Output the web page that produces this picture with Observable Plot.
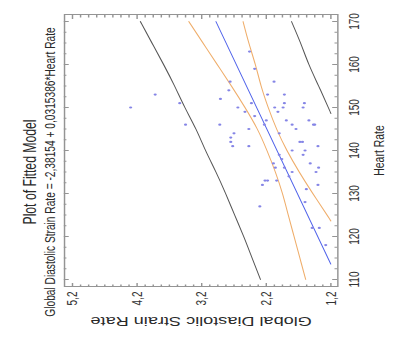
<!DOCTYPE html>
<html>
<head>
<meta charset="utf-8">
<script src="https://cdn.jsdelivr.net/npm/d3@7"></script>
<script src="https://cdn.jsdelivr.net/npm/@observablehq/plot@0.6"></script>
<style>
  html, body { margin: 0; padding: 0; background: #fff; }
  #page { position: relative; width: 398px; height: 338px; overflow: hidden; background: #fff; }
  /* The chart is laid out upright, then turned a quarter turn counter-clockwise
     and stretched along its vertical axis. */
  #chart {
    position: absolute; left: 0; top: 0;
    width: 338px; height: 275px;
    transform-origin: 0 0;
    transform: translate(0, 338px) rotate(-90deg) scale(1, 1.45);
    font-family: "Liberation Sans", Arial, sans-serif;
    color: #2a2a2a;
  }
  #chart svg { position: absolute; left: 0; top: 0; }
  .head { position: absolute; width: 338px; text-align: center; white-space: nowrap; }
  #title { left: -3px; top: 14px; font-size: 12.2px; line-height: 14px; }
  #subtitle { left: -3px; top: 27.5px; font-size: 10.2px; line-height: 13px; }
</style>
</head>
<body>
<div id="page"><div id="chart"></div></div>
<script>
// Observations
const heartRate = [163, 159, 156, 156, 154, 153, 153, 153, 152, 151, 151, 151, 151,
  150, 150, 150, 150, 150, 149, 149, 148, 147, 147, 147, 146, 146, 146, 146, 146, 146,
  145, 145, 144, 144, 143, 142, 142, 142, 141, 141, 141, 140, 140, 139, 139, 138,
  137, 137, 136, 136, 136, 135, 135, 134, 133, 133, 133, 132, 132, 131, 128, 127,
  122, 122, 118];
const strainRate = [2.46, 2.38, 2.76, 2.08, 2.78, 2.18, 1.92, 3.92, 2.91, 3.54, 2.43, 1.92, 1.61,
  4.30, 2.64, 2.07, 1.94, 1.63, 2.53, 2.02, 2.38, 2.20, 1.89, 1.54, 3.45, 2.92, 2.23, 1.80, 1.47, 1.45,
  1.74, 2.47, 2.70, 2.00, 2.75, 2.75, 1.68, 1.64, 2.72, 2.47, 1.40, 1.80, 1.60, 2.00, 1.63, 1.96,
  2.09, 1.52, 2.06, 1.92, 1.39, 1.80, 1.43, 1.85, 2.18, 2.22, 2.04, 2.26, 1.40, 1.58, 1.60, 2.30,
  1.49, 1.38, 1.28];

// Fitted model: Global Diastolic Strain Rate = -2.38154 + 0.0315386*Heart Rate
const intercept = -2.38154;
const slope = 0.0315386;
const fitRange = [113.6, 170];

// Band limits (upper/lower 95% confidence and prediction limits)
const bandHR = [110, 115, 120, 125, 130, 135, 140, 145, 150, 155, 160, 165, 170];
const upperCI = [1.59, 1.68, 1.77, 1.86, 1.95, 2.06, 2.19, 2.34, 2.53, 2.74, 2.96, 3.18, 3.40];
const upperPI = [2.29, 2.42, 2.55, 2.69, 2.83, 2.98, 3.14, 3.29, 3.46, 3.62, 3.79, 3.97, 4.15];
const lowerCIHR = [123.6, 125, 130, 135, 140, 145, 150, 155, 160, 165, 170];
const lowerCI = [1.20, 1.26, 1.48, 1.69, 1.88, 2.04, 2.17, 2.28, 2.37, 2.47, 2.56];
const lowerPIHR = [148.6, 150, 155, 160, 165, 170];
const lowerPI = [1.20, 1.24, 1.39, 1.54, 1.67, 1.81];

// Axes
const hrTicks = [110, 120, 130, 140, 150, 160, 170];
const strainTicks = [1.2, 2.2, 3.2, 4.2, 5.2];
const hrMinor = d3.range(110, 170.01, 2.5).filter(v => !hrTicks.includes(v));
const strainMinor = d3.range(1.2, 5.2001, 0.125).filter(v => !strainTicks.some(t => Math.abs(t - v) < 1e-6));

const titleText = "Plot of Fitted Model";
const subtitleText = "Global Diastolic Strain Rate = -2,38154 + 0,0315386*Heart Rate";
const xLabel = "Heart Rate";
const yLabel = "Global Diastolic Strain Rate";

const points = heartRate.map((h, i) => ({h, s: strainRate[i]}));
const pairs = (xs, ys) => xs.map((h, i) => ({h, s: ys[i]}));
const fitted = fitRange.map(h => ({h, s: intercept + slope * h}));

const W = 338, H = 275;
const mL = 51, mR = 15, mT = 44, mB = 42.5;
const frameW = W - mL - mR, frameH = H - mT - mB;
const axisColor = "#949494";

const plot = Plot.plot({
  width: W, height: H,
  marginLeft: mL, marginRight: mR, marginTop: mT, marginBottom: mB,
  x: {domain: [110, 170], insetLeft: 7, insetRight: 7},
  y: {domain: [1.2, 5.2], insetTop: 5.5, insetBottom: 4.8},
  style: {fontFamily: '"Liberation Sans", Arial, sans-serif', fontSize: "10px", color: "#333", background: "transparent"},
  marks: [
    Plot.frame({stroke: axisColor}),
    // inward ticks on all four sides
    Plot.ruleX(hrTicks, {x: d => d, stroke: axisColor, insetTop: frameH - 3.4}),
    Plot.ruleX(hrMinor, {x: d => d, stroke: axisColor, insetTop: frameH - 1.8}),
    Plot.ruleX(hrTicks, {x: d => d, stroke: axisColor, insetBottom: frameH - 3.4}),
    Plot.ruleX(hrMinor, {x: d => d, stroke: axisColor, insetBottom: frameH - 1.8}),
    Plot.ruleY(strainTicks, {y: d => d, stroke: axisColor, insetRight: frameW - 4}),
    Plot.ruleY(strainMinor, {y: d => d, stroke: axisColor, insetRight: frameW - 2.5}),
    Plot.ruleY(strainTicks, {y: d => d, stroke: axisColor, insetLeft: frameW - 4}),
    Plot.ruleY(strainMinor, {y: d => d, stroke: axisColor, insetLeft: frameW - 2.5}),
    Plot.axisX({ticks: hrTicks, tickSize: 0, tickPadding: 7.4, label: null, fontSize: 10}),
    Plot.axisY({ticks: strainTicks, tickSize: 0, tickPadding: 5, label: null, fontSize: 10,
      tickFormat: d => d.toFixed(1).replace(".", ",")}),
    // prediction limits
    Plot.line(pairs(bandHR, upperPI), {x: "h", y: "s", stroke: "#555", strokeWidth: 0.75, curve: "natural"}),
    Plot.line(pairs(lowerPIHR, lowerPI), {x: "h", y: "s", stroke: "#555", strokeWidth: 0.75, curve: "natural"}),
    // confidence limits
    Plot.line(pairs(bandHR, upperCI), {x: "h", y: "s", stroke: "#efad6a", strokeWidth: 0.75, curve: "natural"}),
    Plot.line(pairs(lowerCIHR, lowerCI), {x: "h", y: "s", stroke: "#efad6a", strokeWidth: 0.75, curve: "natural"}),
    // fitted line
    Plot.line(fitted, {x: "h", y: "s", stroke: "#5063ea", strokeWidth: 0.75}),
    // observations
    Plot.dot(points, {x: "h", y: "s", r: 1.1, fill: "#8585e6", stroke: "none"}),
    Plot.text([xLabel], {text: d => d, frameAnchor: "bottom", dy: 32, fontSize: 10.5, fill: "#2a2a2a"}),
    Plot.text([yLabel], {text: d => d, frameAnchor: "left", textAnchor: "middle", dx: -35, rotate: -90, fontSize: 12.5, fill: "#2a2a2a"})
  ]
});

const chart = document.getElementById("chart");
chart.appendChild(plot);
const t = document.createElement("div");
t.id = "title"; t.className = "head"; t.textContent = titleText;
const st = document.createElement("div");
st.id = "subtitle"; st.className = "head"; st.textContent = subtitleText;
chart.appendChild(t);
chart.appendChild(st);
</script>
</body>
</html>
